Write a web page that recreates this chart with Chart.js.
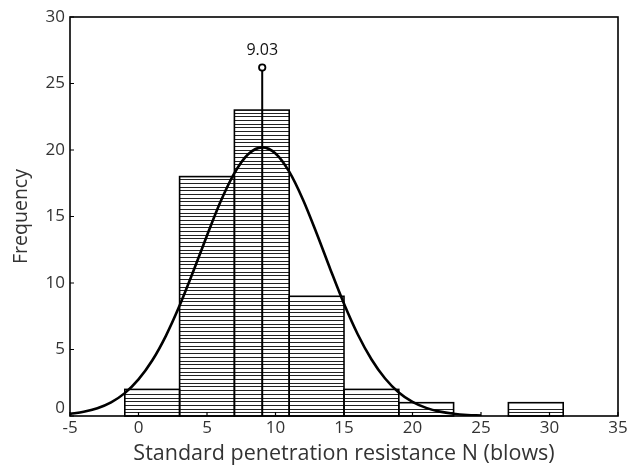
<!DOCTYPE html>
<html>
<head>
<meta charset="utf-8">
<script src="https://cdn.jsdelivr.net/npm/chart.js@4/dist/chart.umd.min.js"></script>
<style>
  html, body { margin: 0; padding: 0; background: #ffffff; }
  #wrap { width: 641px; height: 467px; }
</style>
</head>
<body>
<div id="wrap"><canvas id="c" width="641" height="467"></canvas></div>
<script>
// Histogram bins (bin width 4) — centres and counts
const binCenters = [1, 5, 9, 13, 17, 21, 25, 29];
const frequencies = [2, 18, 23, 9, 2, 1, 0, 1];

// Fitted normal curve
const curveX = [-5, -4, -3, -2, -1, 0, 1, 2, 3, 4, 5, 6, 7, 8, 9.03, 10, 11, 12, 13, 14, 15, 16, 17, 18, 19, 20, 21, 22, 23, 24, 25];
const curveY = [0.16, 0.32, 0.59, 1.03, 1.72, 2.75, 4.17, 6.03, 8.3, 10.88, 13.57, 16.14, 18.26, 19.68, 20.2, 19.74, 18.37, 16.28, 13.74, 11.04, 8.44, 6.15, 4.27, 2.82, 1.77, 1.06, 0.61, 0.33, 0.17, 0.08, 0.04];

// Mean marker
const meanValue = 9.03;
const meanMarkerTop = 26.2;
const meanLabel = "9.03";

// Axis ranges / ticks
const xRange = [-5, 35];
const yRange = [0, 30];
const xTickStep = 5;
const yTickStep = 5;
const yTickLabels = ["0", "5", "10", "15", "20", "25", "30"];

const xTitle = "Standard penetration resistance N (blows)";
const yTitle = "Frequency";

const binData = binCenters.map((c, i) => ({ x: c, y: frequencies[i] }));
const curveData = curveX.map((x, i) => ({ x: x, y: curveY[i] }));
const meanData = [{ x: meanValue, y: 0 }, { x: meanValue, y: meanMarkerTop }];

const textColor = '#333333';
const labelFont = "'Open Sans', sans-serif";

const histPlugin = {
  id: 'histDecor',
  afterDatasetDraw(chart, args) {
    if (args.meta.type !== 'bar') return;
    const ctx = chart.ctx;
    ctx.save();
    args.meta.data.forEach(el => {
      const p = el.getProps(['x', 'y', 'base', 'width'], true);
      const left = p.x - p.width / 2;
      const right = p.x + p.width / 2;
      const top = Math.min(p.y, p.base);
      const bottom = Math.max(p.y, p.base);
      if (bottom - top < 0.5) return;
      ctx.save();
      ctx.beginPath();
      ctx.rect(left, top, right - left, bottom - top);
      ctx.clip();
      ctx.strokeStyle = '#222222';
      ctx.lineWidth = 1;
      ctx.beginPath();
      for (let yy = bottom - 3.7; yy > top + 2.5; yy -= 3.7) {
        const ry = Math.round(yy) + 0.5;
        ctx.moveTo(left, ry);
        ctx.lineTo(right, ry);
      }
      ctx.stroke();
      ctx.restore();
      ctx.strokeStyle = '#000000';
      ctx.lineWidth = 1.6;
      ctx.strokeRect(left, top, right - left, bottom - top);
    });
    ctx.restore();
  },
  afterDraw(chart) {
    const ctx = chart.ctx;
    const a = chart.chartArea;
    const xs = chart.scales.x, ys = chart.scales.y;
    ctx.save();
    ctx.strokeStyle = '#000000';
    ctx.lineWidth = 1.6;
    ctx.strokeRect(a.left, a.top, a.right - a.left, a.bottom - a.top);
    // inward ticks
    ctx.lineWidth = 1.2;
    ctx.beginPath();
    for (let v = xRange[0]; v <= xRange[1]; v += xTickStep) {
      const px = xs.getPixelForValue(v);
      ctx.moveTo(px, a.bottom);
      ctx.lineTo(px, a.bottom - 4);
    }
    for (let v = yRange[0]; v <= yRange[1]; v += yTickStep) {
      const py = ys.getPixelForValue(v);
      ctx.moveTo(a.left, py);
      ctx.lineTo(a.left + 4, py);
    }
    ctx.stroke();
    // y tick labels (the 0 is lifted to clear the -5 below it)
    ctx.fillStyle = textColor;
    ctx.font = "17px " + labelFont;
    ctx.textAlign = 'right';
    ctx.textBaseline = 'middle';
    yTickLabels.forEach((t, i) => {
      const v = yRange[0] + i * yTickStep;
      const lift = (v === yRange[0]) ? 8 : 0;
      ctx.fillText(t, a.left - 5, ys.getPixelForValue(v) - lift);
    });
    // mean label
    ctx.fillStyle = '#111111';
    ctx.font = "16px 'Open Sans', sans-serif";
    ctx.textAlign = 'center';
    ctx.textBaseline = 'middle';
    ctx.fillText(meanLabel, xs.getPixelForValue(meanValue), ys.getPixelForValue(meanMarkerTop) - 17);
    ctx.restore();
  }
};

new Chart(document.getElementById('c'), {
  type: 'bar',
  data: {
    datasets: [
      {
        type: 'line',
        data: meanData,
        borderColor: '#000000',
        borderWidth: 2,
        pointRadius: [0, 3.2],
        pointBorderWidth: 1.8,
        pointBorderColor: '#000000',
        pointBackgroundColor: '#ffffff',
        fill: false,
        order: 0
      },
      {
        type: 'line',
        data: curveData,
        borderColor: '#000000',
        borderWidth: 2.6,
        pointRadius: 0,
        cubicInterpolationMode: 'monotone',
        fill: false,
        order: 1
      },
      {
        type: 'bar',
        data: binData,
        backgroundColor: '#ffffff',
        borderWidth: 0,
        barPercentage: 1,
        categoryPercentage: 1,
        order: 2
      }
    ]
  },
  options: {
    responsive: false,
    animation: false,
    devicePixelRatio: 1,
    layout: { padding: { top: 17, right: 23, left: 0, bottom: 0 } },
    plugins: { legend: { display: false }, tooltip: { enabled: false } },
    scales: {
      x: {
        type: 'linear',
        min: xRange[0],
        max: xRange[1],
        offset: false,
        grid: { display: false, drawTicks: false },
        border: { display: false },
        ticks: { stepSize: xTickStep, color: textColor, font: { family: labelFont, size: 17 }, padding: 2, maxRotation: 0 },
        title: { display: true, text: xTitle, color: textColor, font: { family: labelFont, size: 21.5 }, padding: { top: 0, bottom: 0 } },
        afterFit(s) { s.height = 51; }
      },
      y: {
        min: yRange[0],
        max: yRange[1],
        grid: { display: false, drawTicks: false },
        border: { display: false },
        ticks: { display: false, stepSize: yTickStep },
        title: { display: true, text: yTitle, color: textColor, font: { family: labelFont, size: 19.5 }, padding: { top: 10, bottom: 0 } },
        afterFit(s) { s.width = 70; }
      }
    }
  },
  plugins: [histPlugin]
});
</script>
</body>
</html>
